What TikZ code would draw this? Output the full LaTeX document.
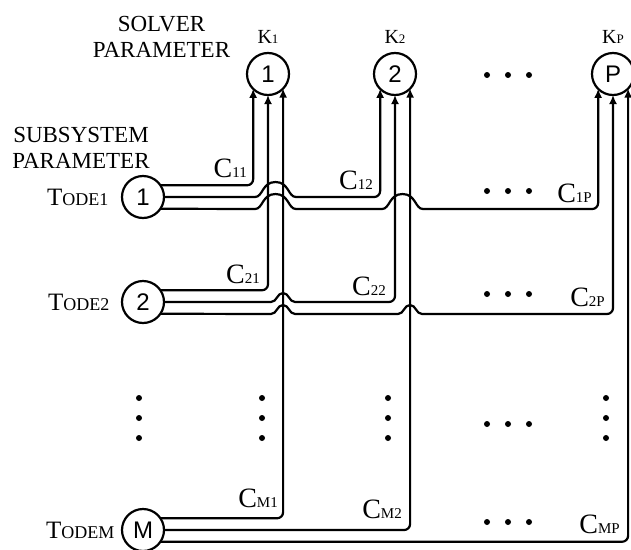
\documentclass[tikz,border=0pt]{standalone}
\usepackage{fontspec}
\setmainfont{Liberation Serif}
\newfontfamily\circfont{Liberation Sans}
\usetikzlibrary{arrows.meta}

\newcommand\clab[1]{{\fontsize{28}{28}\selectfont C}{\fontsize{15}{15}\selectfont #1}}
\newcommand\klab[1]{{\fontsize{20}{20}\selectfont K}{\fontsize{13}{13}\selectfont #1}}
\newcommand\tlab[1]{{\fontsize{25}{25}\selectfont T}{\fontsize{18}{18}\selectfont ODE#1}}
% single hop over a vertical line at x=#1 on the horizontal line y=#2
\newcommand\hopone[2]{-- (#1-12,#2) .. controls (#1-6,#2) and (#1-6,#2-9) .. (#1,#2-9) .. controls (#1+6,#2-9) and (#1+6,#2) .. (#1+12,#2)}
% double hop over vertical lines at x=#1 and x=#2 on the horizontal line y=#3
\newcommand\hoptwo[3]{-- (#1-13,#3) .. controls (#1-5,#3) and (#1-6,#3-15) .. ({(#1+#2)/2},#3-15) .. controls (#2+6,#3-15) and (#2+5,#3) .. (#2+13,#3)}

\begin{document}
\begin{tikzpicture}[x=1pt,y=-1pt,
  circ/.style={circle,draw,line width=2.2pt,minimum size=42pt,inner sep=0pt,outer sep=0pt,
               font=\circfont\fontsize{24}{24}\selectfont},
  conn/.style={line width=2.2pt,-{Latex[length=9pt,width=8pt]}},
  head/.style={font=\fontsize{23}{23}\selectfont,inner sep=0pt,anchor=base},
  clabel/.style={inner sep=0pt,anchor=base east},
  klabel/.style={inner sep=0pt,anchor=base},
  tlabel/.style={inner sep=0pt,anchor=base west},
  dot/.style={fill=black}]
\useasboundingbox (0,0) rectangle (631,549);

% headings
\node[head] (sol1) at (161.5,31) {SOLVER};
\node[head] (sol2) at (161.5,57) {PARAMETER};
\node[head] (sub1) at (81,142) {SUBSYSTEM};
\node[head] (sub2) at (81,168) {PARAMETER};

% solver parameter circles
\node[circ] (k1) at (268,74) {1};
\node[circ] (k2) at (395,74) {2};
\node[circ] (kp) at (613,74) {P};
\node[klabel] (k1l) at (268,43) {\klab{1}};
\node[klabel] (k2l) at (395,43) {\klab{2}};
\node[klabel] (kpl) at (613,43) {\klab{P}};

% subsystem parameter circles
\node[circ] (t1) at (143,197) {1};
\node[circ] (t2) at (143,302) {2};
\node[circ] (tm) at (143,530) {M};
\node[tlabel] (t1l) at (47,205) {\tlab{1}};
\node[tlabel] (t2l) at (48,310) {\tlab{2}};
\node[tlabel] (tml) at (46,538) {\tlab{M}};

% row 1
\draw[conn,rounded corners=6pt] (t1.34.85) -| (k1.-135.6);
\draw[conn] (t1.0) \hoptwo{268}{283}{197} [rounded corners=6pt] -| (k2.-135.6);
\draw[conn] (t1.-34.85) \hoptwo{268}{283}{209} \hoptwo{395}{410}{209} [rounded corners=6pt] -| (kp.-135.6);
% row 2
\draw[conn,rounded corners=6pt] (t2.34.85) -| (k1.-90);
\draw[conn] (t2.0) \hopone{283}{302} [rounded corners=6pt] -| (k2.-90);
\draw[conn] (t2.-34.85) \hopone{283}{314} \hopone{410}{314} [rounded corners=6pt] -| (kp.-90);
% row M
\draw[conn,rounded corners=6pt] (tm.34.85) -| (k1.-44.4);
\draw[conn,rounded corners=6pt] (tm.0) -| (k2.-44.4);
\draw[conn,rounded corners=6pt] (tm.-34.85) -| (kp.-44.4);

% coefficient labels
\node[clabel] (c11) at (247,177) {\clab{11}};
\node[clabel] (c12) at (373,189) {\clab{12}};
\node[clabel] (c1p) at (592,202) {\clab{1P}};
\node[clabel] (c21) at (260,283) {\clab{21}};
\node[clabel] (c22) at (386,295) {\clab{22}};
\node[clabel] (c2p) at (605,306) {\clab{2P}};
\node[clabel] (cm1) at (278,507) {\clab{M1}};
\node[clabel] (cm2) at (402,518) {\clab{M2}};
\node[clabel] (cmp) at (620,533) {\clab{MP}};

% horizontal ellipses
\foreach \y in {75,191,294,424,522}
  \foreach \x in {487,508,529}
    \fill[dot] (\x,\y) circle (3);
% vertical ellipses
\foreach \x in {139,262,388,606}
  \foreach \y in {398,418,438}
    \fill[dot] (\x,\y) circle (3);
\end{tikzpicture}
\end{document}
